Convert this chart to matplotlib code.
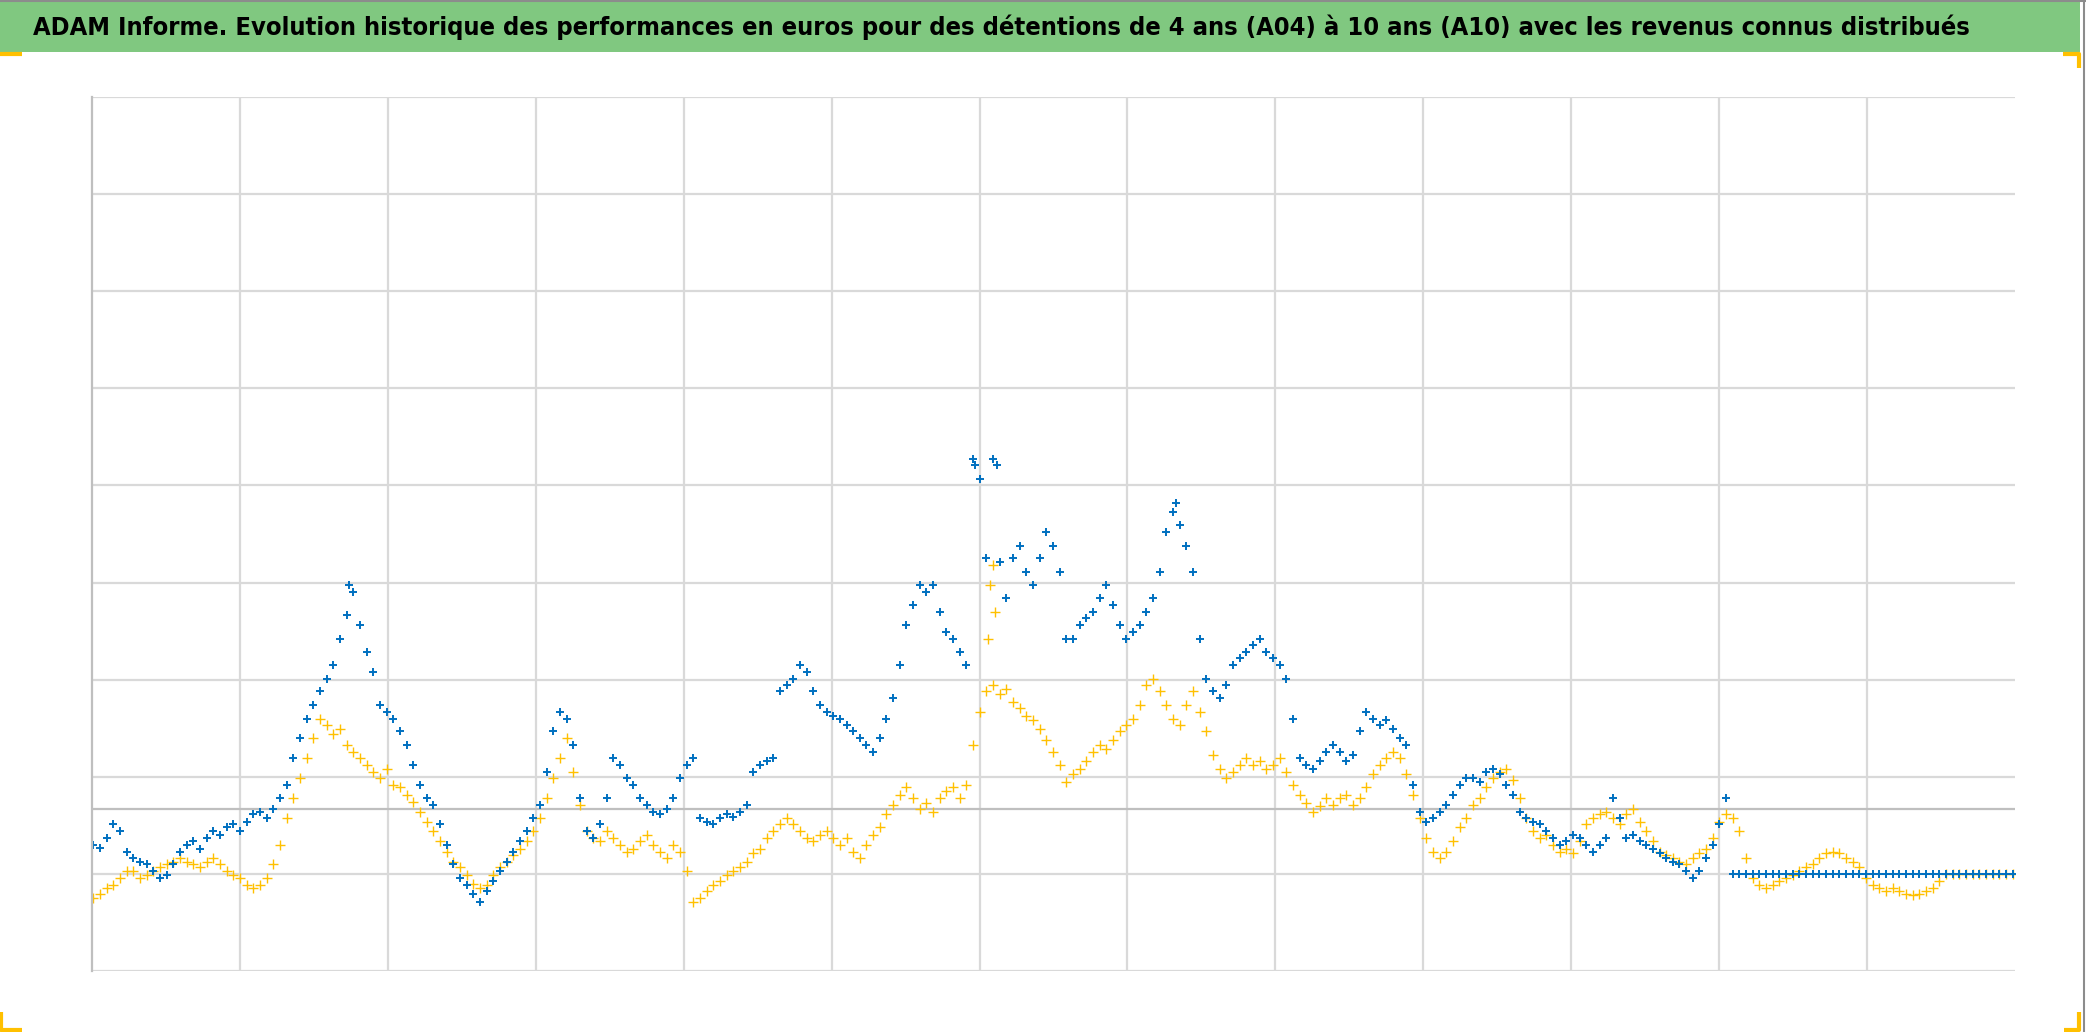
import numpy as np
import matplotlib
matplotlib.use('Agg')
import matplotlib.pyplot as plt
from matplotlib.patches import Rectangle
from matplotlib.lines import Line2D

# Titre du graphique
titre = "ADAM Informe. Evolution historique des performances en euros pour des détentions de 4 ans (A04) à 10 ans (A10) avec les revenus connus distribués"

# Echantillonnage régulier de la date (années)
an_debut = 1971.04
pas_an = 0.1802

# A04 : performance (unités de 10 000 euros), un point par pas
a04 = [0.75, 0.79, 0.85, 0.89, 0.96, 1.03, 1.03, 0.96, 0.99, 1.03,
       1.07, 1.10, 1.12, 1.16, 1.12, 1.10, 1.07, 1.12, 1.16, 1.10,
       1.03, 0.99, 0.96, 0.89, 0.85, 0.89, 0.96, 1.10, 1.30, 1.58,
       1.78, 1.99, 2.19, 2.40, 2.60, 2.53, 2.44, 2.49, 2.33, 2.26,
       2.19, 2.12, 2.05, 1.99, 2.08, 1.92, 1.89, 1.81, 1.74, 1.64,
       1.53, 1.44, 1.34, 1.23, 1.12, 1.07, 0.99, 0.90, 0.85, 0.89,
       0.99, 1.07, 1.12, 1.19, 1.26, 1.34, 1.44, 1.58, 1.78, 1.99,
       2.19, 2.40, 2.05, 1.71, 1.44, 1.37, 1.34, 1.44, 1.37, 1.30,
       1.23, 1.26, 1.34, 1.40, 1.30, 1.23, 1.16, 1.30, 1.23, 1.03,
       0.71, 0.75, 0.82, 0.89, 0.93, 0.99, 1.03, 1.07, 1.12, 1.21,
       1.26, 1.37, 1.44, 1.51, 1.58, 1.51, 1.44, 1.37, 1.34, 1.40,
       1.44, 1.37, 1.30, 1.37, 1.23, 1.16, 1.30, 1.40, 1.48, 1.62,
       1.71, 1.81, 1.89, 1.78, 1.67, 1.73, 1.64, 1.78, 1.85, 1.89,
       1.78, 1.92, 2.33, 2.67, 2.88, 2.95, 2.85, 2.90, 2.77, 2.71,
       2.63, 2.58, 2.49, 2.38, 2.26, 2.12, 1.95, 2.03, 2.08, 2.16,
       2.26, 2.33, 2.29, 2.38, 2.47, 2.53, 2.60, 2.74, 2.95, 3.01,
       2.88, 2.74, 2.60, 2.53, 2.74, 2.88, 2.67, 2.47, 2.22, 2.08,
       1.99, 2.05, 2.12, 2.19, 2.12, 2.16, 2.08, 2.12, 2.19, 2.05,
       1.92, 1.81, 1.73, 1.64, 1.70, 1.78, 1.71, 1.78, 1.81, 1.71,
       1.78, 1.89, 2.03, 2.12, 2.19, 2.26, 2.19, 2.03, 1.81, 1.58,
       1.37, 1.23, 1.16, 1.23, 1.34, 1.48, 1.58, 1.71, 1.78, 1.89,
       1.99, 2.05, 2.08, 1.97, 1.78, 1.58, 1.44, 1.37, 1.40, 1.30,
       1.23, 1.26, 1.21, 1.34, 1.51, 1.58, 1.62, 1.64, 1.58, 1.51,
       1.62, 1.67, 1.53, 1.44, 1.34, 1.23, 1.19, 1.16, 1.12, 1.10,
       1.16, 1.21, 1.26, 1.37, 1.53, 1.62, 1.58, 1.44, 1.16, 0.96,
       0.89, 0.85, 0.89, 0.93, 0.96, 0.99, 1.03, 1.07, 1.10, 1.16,
       1.21, 1.23, 1.21, 1.16, 1.12, 1.07, 0.96, 0.89, 0.85, 0.82,
       0.85, 0.82, 0.79, 0.78, 0.79, 0.82, 0.85, 0.93, 1.00, 1.00,
       1.00, 1.00, 1.00, 1.00, 1.00, 1.00, 1.00, 1.00, 1.00]

# A10 : performance, même échantillonnage
a10 = [1.30, 1.27, 1.37, 1.51, 1.44, 1.23, 1.16, 1.12, 1.10, 1.03,
       0.96, 0.99, 1.10, 1.23, 1.30, 1.34, 1.26, 1.37, 1.44, 1.40,
       1.48, 1.51, 1.44, 1.53, 1.62, 1.64, 1.58, 1.67, 1.78, 1.92,
       2.19, 2.40, 2.60, 2.74, 2.88, 3.01, 3.15, 3.42, 3.67, 3.90,
       3.56, 3.29, 3.08, 2.74, 2.67, 2.60, 2.47, 2.33, 2.12, 1.92,
       1.78, 1.71, 1.51, 1.30, 1.10, 0.96, 0.89, 0.79, 0.71, 0.82,
       0.93, 1.03, 1.12, 1.23, 1.34, 1.44, 1.58, 1.71, 2.05, 2.47,
       2.67, 2.60, 2.33, 1.78, 1.44, 1.37, 1.51, 1.78, 2.19, 2.12,
       1.99, 1.92, 1.78, 1.71, 1.64, 1.62, 1.67, 1.78, 1.99, 2.12,
       2.19, 1.58, 1.53, 1.51, 1.58, 1.62, 1.59, 1.64, 1.71, 2.05,
       2.12, 2.16, 2.19, 2.88, 2.95, 3.01, 3.15, 3.08, 2.88, 2.74,
       2.67, 2.63, 2.60, 2.53, 2.47, 2.40, 2.33, 2.26, 2.40, 2.60,
       2.81, 3.15, 3.56, 3.77, 3.97, 3.90, 3.97, 3.70, 3.49, 3.42,
       3.29, 3.15, 5.27, 5.07, 4.25, 5.27, 4.21, 3.84, 4.25, 4.38,
       4.11, 3.97, 4.25, 4.52, 4.38, 4.11, 3.42, 3.42, 3.56, 3.63,
       3.70, 3.84, 3.97, 3.77, 3.56, 3.42, 3.49, 3.56, 3.70, 3.84,
       4.11, 4.52, 4.73, 4.59, 4.38, 4.11, 3.42, 3.01, 2.88, 2.81,
       2.95, 3.15, 3.22, 3.29, 3.36, 3.42, 3.29, 3.22, 3.15, 3.01,
       2.60, 2.19, 2.12, 2.08, 2.16, 2.26, 2.33, 2.26, 2.16, 2.22,
       2.47, 2.67, 2.60, 2.53, 2.58, 2.49, 2.40, 2.33, 1.92, 1.64,
       1.53, 1.58, 1.64, 1.71, 1.81, 1.92, 1.99, 1.99, 1.95, 2.05,
       2.08, 2.03, 1.92, 1.81, 1.64, 1.58, 1.53, 1.51, 1.44, 1.37,
       1.30, 1.34, 1.40, 1.37, 1.30, 1.23, 1.30, 1.37, 1.78, 1.58,
       1.37, 1.40, 1.34, 1.30, 1.26, 1.21, 1.16, 1.12, 1.10, 1.03,
       0.96, 1.03, 1.16, 1.30, 1.51, 1.78, 1.00, 1.00, 1.00, 1.00,
       1.00, 1.00, 1.00, 1.00, 1.00, 1.00, 1.00, 1.00, 1.00, 1.00,
       1.00, 1.00, 1.00, 1.00, 1.00, 1.00, 1.00, 1.00, 1.00, 1.00,
       1.00, 1.00, 1.00, 1.00, 1.00, 1.00, 1.00, 1.00, 1.00, 1.00,
       1.00, 1.00, 1.00, 1.00, 1.00, 1.00, 1.00, 1.00, 1.00]

# points isolés (pics entre deux pas)
a04_pics_an = [1995.22, 1995.29, 1995.36, 1995.43]
a04_pics_val = [3.42, 3.97, 4.18, 3.70]
a10_pics_an = [1977.95, 1994.89, 1995.47, 2000.30]
a10_pics_val = [3.97, 5.21, 5.21, 4.82]

# axes
x_min, x_max = 1971, 2023
y_min, y_max = 0, 9
ligne_axe = 1.67

bleu = '#0070C0'
jaune = '#FFC000'
gris = '#D9D9D9'

dates04 = np.concatenate([an_debut + pas_an * np.arange(len(a04)), a04_pics_an])
vals04 = np.concatenate([a04, a04_pics_val])
dates10 = np.concatenate([an_debut + pas_an * np.arange(len(a10)), a10_pics_an])
vals10 = np.concatenate([a10, a10_pics_val])

fig = plt.figure(figsize=(20.86, 10.32), dpi=100)
ax = fig.add_axes([92/2086, 1-971/1032, (2015-92)/2086, (971-97)/1032])

ax.plot(dates04, vals04, linestyle='none', marker='+', color=jaune, markersize=7, markeredgewidth=1.0)
ax.plot(dates10, vals10, linestyle='none', marker='+', color=bleu, markersize=6, markeredgewidth=1.4)

ax.set_xlim(x_min, x_max)
ax.set_ylim(y_min, y_max)
ax.set_xticks(np.arange(x_min + 4, x_max, 4))
ax.set_yticks(np.arange(y_min, y_max + 1, 1))
ax.tick_params(length=0, labelleft=False, labelbottom=False)
ax.grid(True, color=gris, linewidth=1.6, zorder=0)
ax.set_axisbelow(True)
for s in ['top', 'right', 'bottom']:
    ax.spines[s].set_visible(False)
ax.spines['left'].set_color('#BFBFBF')
ax.spines['left'].set_linewidth(1.6)
ax.axhline(ligne_axe, color='#BFBFBF', linewidth=1.6, zorder=1)

# bandeau du titre
fig.patches.append(Rectangle((0, 1-52/1032), 2080/2086, 52/1032, transform=fig.transFigure,
                             facecolor='#80C880', edgecolor='none', zorder=0))
fig.lines.append(Line2D([0, 1], [1-1/1032, 1-1/1032], transform=fig.transFigure, color='#8C8C8C', linewidth=1.5))
fig.lines.append(Line2D([2084/2086, 2084/2086], [0, 1], transform=fig.transFigure, color='#8C8C8C', linewidth=1.5))

t = fig.text(33/2086, 1-27/1032, titre, ha='left', va='center', fontsize=24, fontweight='bold',
             family=['Liberation Sans Narrow', 'DejaVu Sans'], fontstretch='condensed')
fig.canvas.draw()
w = t.get_window_extent().width
t.set_fontsize(24 * 1945 / w)

# poignées de sélection (coins)
def coin(xs, ys):
    fig.lines.append(Line2D([x/2086 for x in xs], [1 - y/1032 for y in ys], transform=fig.transFigure,
                            color=jaune, linewidth=3, solid_capstyle='butt'))

coin([0, 22], [54, 54])
coin([2063, 2079, 2079], [54, 54, 68])
coin([1, 1, 22], [1012, 1030, 1030])
coin([2064, 2079, 2079], [1030, 1030, 1012])

fig.savefig('out.png', dpi=100)
